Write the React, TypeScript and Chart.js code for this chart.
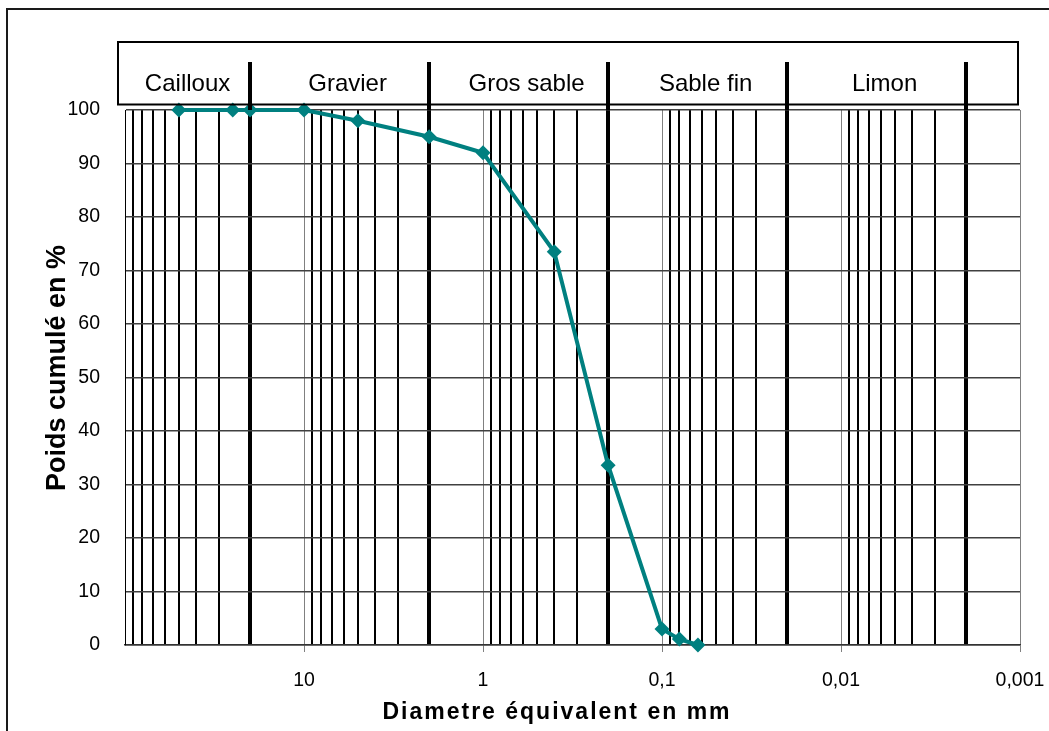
import React, { useEffect, useRef } from "react";
import { Chart, registerables } from "chart.js";

Chart.register(...registerables);

// ---- data ----
const diameters = [50, 25, 20, 10, 5, 2, 1, 0.4, 0.2, 0.1, 0.08, 0.063];
const cumulativePct = [100, 100, 100, 100, 98, 95, 92, 73.5, 33.6, 3, 1.1, 0];

const classBoundaries = [20, 2, 0.2, 0.02, 0.002];
const classNames = ["Cailloux", "Gravier", "Gros sable", "Sable fin", "Limon"];

const decadeValues = [100, 10, 1, 0.1, 0.01, 0.001];
const decadeLabels = ["", "10", "1", "0,1", "0,01", "0,001"];
const minorMultipliers = [2, 3, 4, 5, 6, 7, 8, 9];

const FONT = '"Liberation Sans", Arial, Helvetica, sans-serif';

const sameLog = (a: number, b: number) =>
  Math.abs(Math.log10(a) - Math.log10(b)) < 1e-6;

const gridValues: number[] = (() => {
  const vals: number[] = [...decadeValues];
  decadeValues.slice(1).forEach((d) => {
    minorMultipliers.forEach((m) => vals.push(m * d));
  });
  return vals.sort((a, b) => a - b);
})();

const kindOf = (v: number) => {
  if (classBoundaries.some((b) => sameLog(b, v))) return "boundary";
  if (sameLog(v, 100)) return "edge";
  if (decadeValues.some((d) => sameLog(d, v))) return "decade";
  return "minor";
};

const overlayPlugin = {
  id: "overlay",
  afterDraw(chart: any) {
    const { ctx, chartArea, scales } = chart;
    const xs = scales.x;
    ctx.save();
    // outer frame
    ctx.strokeStyle = "#1a1a1a";
    ctx.lineWidth = 2;
    ctx.strokeRect(7, 9, 3000, 3000);

    // header box
    ctx.strokeStyle = "#000";
    ctx.lineWidth = 2;
    ctx.strokeRect(118, 42, 900, 62.5);

    // separators inside header
    ctx.lineWidth = 4;
    classBoundaries.forEach((b) => {
      const x = Math.round(xs.getPixelForValue(b));
      ctx.beginPath();
      ctx.moveTo(x, 62);
      ctx.lineTo(x, chartArea.top);
      ctx.stroke();
    });

    // class labels
    ctx.fillStyle = "#000";
    ctx.font = `24px ${FONT}`;
    ctx.textAlign = "center";
    ctx.textBaseline = "alphabetic";
    classNames.forEach((name, i) => {
      const left = i === 0 ? chartArea.left : xs.getPixelForValue(classBoundaries[i - 1]);
      const right = xs.getPixelForValue(classBoundaries[i]);
      const cx = (left + right) / 2 + (i === 0 ? 0 : 8);
      ctx.fillText(name, cx, 91);
    });

    // x title
    ctx.font = `bold 23px ${FONT}`;
    (ctx as any).letterSpacing = "2px";
    ctx.fillText("Diametre équivalent en mm", 557, 719);
    (ctx as any).letterSpacing = "0px";

    // y title
    ctx.translate(65, 368);
    ctx.rotate(-Math.PI / 2);
    ctx.font = `bold 27px ${FONT}`;
    ctx.fillText("Poids cumulé en %", 0, 0);
    ctx.restore();
  },
};

export default function App() {
  const ref = useRef<HTMLCanvasElement | null>(null);

  useEffect(() => {
    if (!ref.current) return;
    const chart = new Chart(ref.current, {
      type: "line",
      data: {
        datasets: [
          {
            data: diameters.map((d, i) => ({ x: d, y: cumulativePct[i] })),
            borderColor: "#008080",
            backgroundColor: "#008080",
            borderWidth: 4,
            pointStyle: "rectRot",
            pointRadius: 7.5,
            pointBorderWidth: 0,
            pointBackgroundColor: "#008080",
            clip: false as any,
            tension: 0,
          },
        ],
      },
      options: {
        animation: false,
        responsive: false,
        devicePixelRatio: 1,
        layout: { padding: { top: 110, right: 29, left: 0, bottom: 0 } },
        plugins: {
          legend: { display: false },
          tooltip: { enabled: false },
        },
        scales: {
          x: {
            type: "logarithmic",
            reverse: true,
            min: 0.001,
            max: 100,
            afterBuildTicks: (scale: any) => {
              scale.ticks = gridValues.map((v) => ({ value: v }));
            },
            afterFit: (scale: any) => {
              scale.height = 86;
            },
            ticks: {
              autoSkip: false,
              maxRotation: 0,
              minRotation: 0,
              padding: 17,
              color: "#000",
              font: { family: FONT, size: 19.5 },
              callback: (value: any) => {
                const v = Number(value);
                const idx = decadeValues.findIndex((d) => sameLog(d, v));
                return idx >= 0 ? decadeLabels[idx] : "";
              },
            },
            grid: {
              drawTicks: true,
              tickLength: 7,
              color: (c: any) => {
                const k = kindOf(c.tick.value);
                if (k === "decade") return "#808080";
                return "#000";
              },
              lineWidth: (c: any) => {
                const k = kindOf(c.tick.value);
                if (k === "boundary") return 4;
                if (k === "minor") return 2;
                return 1;
              },
              tickColor: (c: any) => {
                const k = kindOf(c.tick.value);
                return k === "decade" ? "#808080" : "rgba(0,0,0,0)";
              },
              tickWidth: 1,
            },
            border: { display: true, color: "#333", width: 1.5 },
          },
          y: {
            type: "linear",
            min: 0,
            max: 100,
            afterFit: (scale: any) => {
              scale.width = 125;
            },
            ticks: {
              stepSize: 10,
              padding: 25,
              color: "#000",
              font: { family: FONT, size: 19.5 },
            },
            grid: {
              drawTicks: false,
              color: "#404040",
              lineWidth: 1.5,
            },
            border: { display: true, color: "#000", width: 1 },
          },
        },
      } as any,
      plugins: [overlayPlugin],
    });
    return () => chart.destroy();
  }, []);

  return (
    <div style={{ position: "absolute", left: 0, top: 0, width: 1049, height: 731, background: "#fff" }}>
      <canvas ref={ref} width={1049} height={731} style={{ display: "block" }} />
    </div>
  );
}
